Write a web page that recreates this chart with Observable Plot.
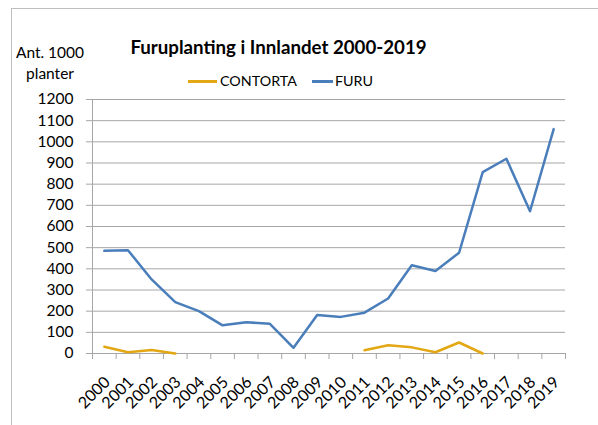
<!DOCTYPE html>
<html><head><meta charset="utf-8">
<script src="https://cdn.jsdelivr.net/npm/d3@7"></script>
<script src="https://cdn.jsdelivr.net/npm/@observablehq/plot@0.6"></script>
<style>
body{margin:0;background:#fff;}
#wrap{position:relative;width:598px;height:425px;overflow:hidden;font-family:Lato,"Open Sans",sans-serif;color:#000;}
#frame{position:absolute;left:11px;top:8px;width:700px;height:600px;border-top:1px solid #bfbfbf;border-left:1px solid #bfbfbf;}
#chart{position:absolute;left:0;top:0;}
.txt{position:absolute;white-space:nowrap;line-height:1;}
#title{left:0;width:557px;top:38px;text-align:center;font-weight:bold;font-size:18.7px;}
#ylab{left:0;width:100px;top:42px;text-align:center;font-size:15.5px;line-height:21px;}
.sw{position:absolute;height:2.5px;}
.leg{font-size:14.3px;top:74px;}
</style>
</head><body>
<div id="wrap">
  <div id="frame"></div>
  <div id="chart"></div>
  <div id="title" class="txt">Furuplanting i Innlandet 2000-2019</div>
  <div id="ylab" class="txt">Ant. 1000<br>planter</div>
  <div id="legend"></div>
</div>
<script>
const years = [2000,2001,2002,2003,2004,2005,2006,2007,2008,2009,2010,2011,2012,2013,2014,2015,2016,2017,2018,2019];
const furu = [485,488,350,243,200,133,148,140,27,182,173,193,260,417,390,476,857,920,672,1060];
const contorta = [32,6,17,0,null,null,null,null,null,null,null,15,39,29,6,52,0,null,null,null];
const yTicks = [0,100,200,300,400,500,600,700,800,900,1000,1100,1200];
const seriesNames = ["CONTORTA","FURU"];
const seriesColors = ["#e3a713","#4a7ebb"];

const furuData = years.map((y,i)=>({year:y, value:furu[i]}));
const contData = years.map((y,i)=>({year:y, value:contorta[i]}));
const boundaries = years.map(y=>y-0.5).concat([years[years.length-1]+0.5]);

const chart = Plot.plot({
  width:598, height:425,
  marginLeft:92, marginRight:33, marginTop:99, marginBottom:72,
  style:{fontFamily:"Lato, 'Open Sans', sans-serif", background:"transparent"},
  x:{domain:[boundaries[0], boundaries[boundaries.length-1]]},
  y:{domain:[yTicks[0], yTicks[yTicks.length-1]]},
  marks:[
    Plot.gridY(yTicks,{stroke:"#a6a6a6", strokeOpacity:1, strokeWidth:1}),
    Plot.axisY({ticks:yTicks, tickSize:6, tickPadding:13, stroke:"#a6a6a6", fill:"#000", fontSize:15.5, tickFormat:d=>String(d), label:null}),
    Plot.ruleX([boundaries[0]],{stroke:"#a6a6a6", strokeWidth:1}),
    Plot.axisX({ticks:boundaries, tickSize:6, tickFormat:()=>"", stroke:"#a6a6a6", label:null}),
    Plot.axisX({ticks:years, tickSize:0, tickRotate:-45, tickPadding:16, dx:3, dy:10, tickFormat:d=>String(d), fill:"#000", fontSize:16, label:null}),
    Plot.line(contData,{x:"year", y:"value", stroke:seriesColors[0], strokeWidth:2.5}),
    Plot.line(furuData,{x:"year", y:"value", stroke:seriesColors[1], strokeWidth:2.5})
  ]
});
document.getElementById("chart").appendChild(chart);

const legend = document.getElementById("legend");
const legPos = [{line:188, width:29, text:220},{line:312, width:21, text:335}];
seriesNames.forEach((n,i)=>{
  const sw = document.createElement("div");
  sw.className="sw"; sw.style.left=legPos[i].line+"px"; sw.style.top="80px"; sw.style.width=legPos[i].width+"px"; sw.style.background=seriesColors[i];
  legend.appendChild(sw);
  const t = document.createElement("div");
  t.className="txt leg"; t.style.left=legPos[i].text+"px"; t.textContent=n;
  legend.appendChild(t);
});
</script>
</body></html>
